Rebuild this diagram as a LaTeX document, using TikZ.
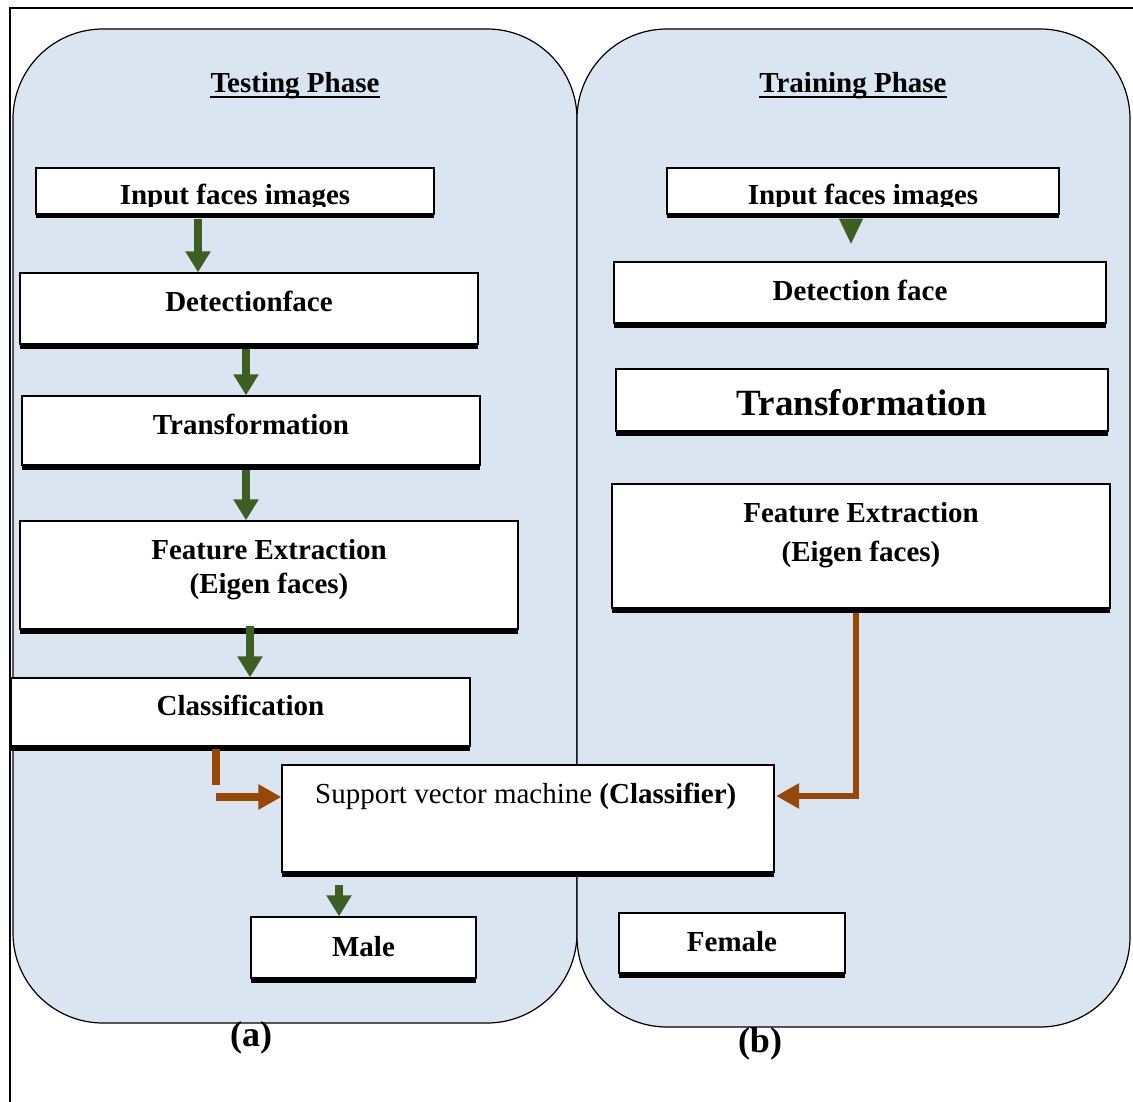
\documentclass[tikz,border=0pt]{standalone}
\usepackage{fontspec}
\setmainfont{Liberation Serif}
\usetikzlibrary{arrows.meta,calc,shadows}
\definecolor{panel}{HTML}{DBE5F1}
\definecolor{garr}{RGB}{63,94,36}
\definecolor{barr}{RGB}{152,72,6}
\begin{document}
\begin{tikzpicture}[x=1pt,y=-1pt,
  box/.style={draw=black,line width=1.3pt,fill=white,inner sep=0pt,
    drop shadow={shadow xshift=0pt,shadow yshift=-4.5pt,opacity=1,fill=black}},
  txt/.style={inner sep=0pt,anchor=base,font=\fontsize{29}{34}\selectfont\bfseries},
  reg/.style={inner sep=0pt,anchor=base west,font=\fontsize{29}{34}\selectfont},
  big/.style={inner sep=0pt,anchor=base,font=\fontsize{37}{42}\selectfont\bfseries},
  lab/.style={inner sep=0pt,anchor=base,font=\fontsize{36}{40}\selectfont\bfseries},
  garrow/.style={draw=garr,line width=8pt,-{Triangle[width=24pt,length=21pt]}},
  ghead/.style={draw=garr,line width=0.1pt,-{Triangle[width=24pt,length=25pt]}},
  barrow/.style={draw=barr,line width=6pt,line join=miter,-{Triangle[width=24pt,length=23pt]}},
  barrowthick/.style={barrow,line width=8pt},
  panelbox/.style={draw=black,line width=1.2pt,fill=panel,rounded corners=90pt}]
\useasboundingbox (0,0) rectangle (1133,1102);
% outer frame
\draw[line width=2pt] (10,1102) -- (10,8) -- (1133,8);
% panels
\draw[panelbox] (13,29) rectangle (577,1023);
\draw[panelbox] (577,29) rectangle (1130,1027);
% box nodes (geometry only)
\node[box,minimum width=398pt,minimum height=46pt] (in1) at (235,191) {};
\node[box,minimum width=458pt,minimum height=71pt] (det1) at (249,308.5) {};
\node[box,minimum width=458pt,minimum height=69pt] (tr1) at (251,430.5) {};
\node[box,minimum width=498pt,minimum height=108pt] (fe1) at (269,575) {};
\node[box,minimum width=459pt,minimum height=68pt] (cls) at (240.5,712) {};
\node[box,minimum width=225pt,minimum height=61pt] (male) at (363.5,947.5) {};
\node[box,minimum width=392pt,minimum height=46pt] (in2) at (863,191) {};
\node[box,minimum width=492pt,minimum height=61pt] (det2) at (860,292.5) {};
\node[box,minimum width=492pt,minimum height=62pt] (tr2) at (862,400) {};
\node[box,minimum width=498pt,minimum height=124pt] (fe2) at (861,546) {};
\node[box,minimum width=226pt,minimum height=60pt] (fem) at (732,943) {};
\node[box,minimum width=492pt,minimum height=107pt] (svm) at (528,818.5) {};
% helper coordinates
\coordinate (xa) at (198,0);
\coordinate (xb) at (246,0);
\coordinate (xd) at (250,0);
\coordinate (xe) at (339,0);
\coordinate (xh) at (851,0);
\coordinate (xl) at (216,0);
\coordinate (yl) at (0,797);
\coordinate (yk) at (0,785);
\coordinate (xr) at (856,0);
\coordinate (yr) at (0,796);
% green arrows
\draw[garrow] ($(in1.south -| xa)+(0,4.5)$) -- (det1.north -| xa);
\draw[garrow] ($(det1.south -| xb)+(0,4.5)$) -- (tr1.north -| xb);
\draw[garrow] ($(tr1.south -| xb)+(0,4.5)$) -- (fe1.north -| xb);
\draw[garrow] ($(fe1.south -| xd)+(0,-4)$) -- (cls.north -| xd);
\draw[garrow] ($(svm.south -| xe)+(0,12)$) -- (male.north -| xe);
\draw[ghead] ($(in2.south -| xh)+(0,4)$) -- ++(0,25);
% brown arrows
\draw[barrowthick] ($(cls.south -| xl)+(0,2)$) -- (xl |- yk) (xl |- yl) -- (svm.west |- yl);
\draw[barrow] ($(fe2.south -| xr)+(0,4.5)$) |- ([xshift=1.5pt]svm.east |- yr);
% titles
\node[txt] (tp) at (295,93) {Testing Phase};
\draw[line width=1.5pt] ([yshift=-4pt]tp.base west) -- ([yshift=-4pt]tp.base east);
\node[txt] (trp) at (853,93) {Training Phase};
\draw[line width=1.5pt] ([yshift=-4pt]trp.base west) -- ([yshift=-4pt]trp.base east);
% clipped input texts
\begin{scope}
  \clip (in1.north west) rectangle ([yshift=8pt]in1.south east);
  \node[txt] (in1t) at (in1.center |- 0,205) {Input faces images};
\end{scope}
\begin{scope}
  \clip (in2.north west) rectangle ([yshift=8pt]in2.south east);
  \node[txt] (in2t) at (in2.center |- 0,205) {Input faces images};
\end{scope}
% box texts left
\node[txt] (det1t) at (det1.center |- 0,311) {Detectionface};
\node[txt] (tr1t) at (tr1.center |- 0,434) {Transformation};
\node[txt] (fe1a) at (fe1.center |- 0,559) {Feature Extraction};
\node[txt] (fe1b) at (fe1.center |- 0,593) {(Eigen faces)};
\node[txt] (clst) at (cls.center |- 0,715) {Classification};
\node[reg] (svmt) at (315,803) {Support vector machine \textbf{(Classifier)}};
\node[txt] (malet) at (male.center |- 0,956) {Male};
% box texts right
\node[txt] (det2t) at (det2.center |- 0,300) {Detection face};
\node[big] (tr2t) at (tr2.center |- 0,415) {Transformation};
\node[txt] (fe2a) at (fe2.center |- 0,522) {Feature Extraction};
\node[txt] (fe2b) at (fe2.center |- 0,561) {(Eigen faces)};
\node[txt] (femt) at (fem.center |- 0,951) {Female};
% panel labels
\node[lab] (la) at (251,1046) {(a)};
\node[lab] (lb) at (760,1052) {(b)};
\end{tikzpicture}
\end{document}
